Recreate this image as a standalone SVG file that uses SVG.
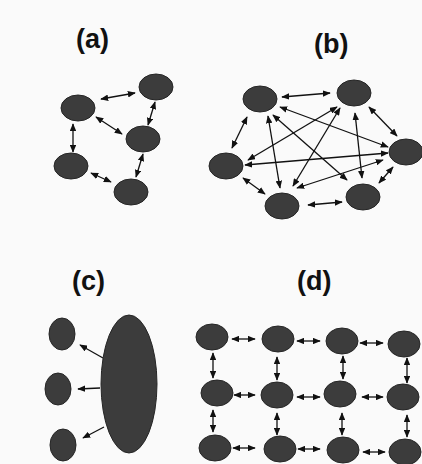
<svg xmlns="http://www.w3.org/2000/svg" width="422" height="464" viewBox="0 0 422 464">
<defs>
<marker id="ah" viewBox="0 0 10 10" refX="9" refY="5" markerWidth="8" markerHeight="6.5" markerUnits="userSpaceOnUse" orient="auto-start-reverse" preserveAspectRatio="none">
<path d="M0,0 L10,5 L0,10 z" fill="#111"/>
</marker>
</defs>
<style>
.n{fill:#3c3c3c;stroke:#262626;stroke-width:1}
.lbl{font-family:"Liberation Sans",Arial,sans-serif;font-weight:bold;font-size:27px;fill:#111}
.bi{stroke:#111;stroke-width:1.3;fill:none;marker-start:url(#ah);marker-end:url(#ah)}
.one{stroke:#111;stroke-width:1.3;fill:none;marker-end:url(#ah)}
</style>
<rect width="422" height="464" fill="#fafafa"/>
<g id="labels">
<text class="lbl" x="76" y="48">(a)</text>
<text class="lbl" x="314" y="53">(b)</text>
<text class="lbl" x="72" y="290">(c)</text>
<text class="lbl" x="297" y="290">(d)</text>
</g>
<g id="connectors">
<!-- a -->
<line class="bi" x1="101" y1="99" x2="135" y2="93"/>
<line class="bi" x1="155" y1="102" x2="148" y2="125"/>
<line class="bi" x1="96" y1="117" x2="122" y2="134"/>
<line class="bi" x1="73" y1="124" x2="73" y2="152"/>
<line class="bi" x1="91" y1="173" x2="111" y2="182"/>
<line class="bi" x1="143" y1="154" x2="136" y2="177"/>
<!-- b -->
<line class="bi" x1="282" y1="97" x2="330" y2="93"/>
<line class="bi" x1="247" y1="117" x2="232" y2="148"/>
<line class="bi" x1="369" y1="107" x2="397" y2="136"/>
<line class="bi" x1="280" y1="107" x2="388" y2="147"/>
<line class="bi" x1="337" y1="107" x2="248" y2="160"/>
<line class="bi" x1="268" y1="116" x2="280" y2="188"/>
<line class="bi" x1="273" y1="115" x2="347" y2="180"/>
<line class="bi" x1="340" y1="108" x2="293" y2="186"/>
<line class="bi" x1="355" y1="113" x2="362" y2="178"/>
<line class="bi" x1="245" y1="165" x2="388" y2="153"/>
<line class="bi" x1="297" y1="188" x2="383" y2="160"/>
<line class="bi" x1="243" y1="178" x2="265" y2="194"/>
<line class="bi" x1="308" y1="205" x2="342" y2="202"/>
<line class="bi" x1="379" y1="183" x2="393" y2="167"/>
<!-- c -->
<line class="one" x1="103" y1="358" x2="80" y2="345"/>
<line class="one" x1="100" y1="388" x2="78" y2="389"/>
<line class="one" x1="104" y1="427" x2="83" y2="438"/>
<!-- d horizontal -->
<line class="bi" x1="232" y1="339" x2="255" y2="339"/>
<line class="bi" x1="297" y1="341" x2="320" y2="341"/>
<line class="bi" x1="360" y1="343" x2="383" y2="343"/>
<line class="bi" x1="234" y1="395" x2="255" y2="395"/>
<line class="bi" x1="297" y1="397" x2="320" y2="397"/>
<line class="bi" x1="362" y1="397" x2="383" y2="397"/>
<line class="bi" x1="233" y1="448" x2="255" y2="448"/>
<line class="bi" x1="298" y1="449" x2="320" y2="449"/>
<line class="bi" x1="363" y1="452" x2="385" y2="452"/>
<!-- d vertical -->
<line class="bi" x1="213" y1="353" x2="213" y2="378"/>
<line class="bi" x1="277" y1="357" x2="277" y2="380"/>
<line class="bi" x1="343" y1="356" x2="343" y2="379"/>
<line class="bi" x1="407" y1="358" x2="407" y2="383"/>
<line class="bi" x1="213" y1="410" x2="213" y2="432"/>
<line class="bi" x1="277" y1="413" x2="277" y2="435"/>
<line class="bi" x1="342" y1="413" x2="342" y2="435"/>
<line class="bi" x1="407" y1="415" x2="407" y2="437"/>
</g>
<g id="a1"><ellipse class="n" cx="78" cy="108" rx="17" ry="13"/></g>
<g id="a2"><ellipse class="n" cx="156" cy="87" rx="17" ry="13"/></g>
<g id="a3"><ellipse class="n" cx="143" cy="139" rx="17" ry="13"/></g>
<g id="a4"><ellipse class="n" cx="71" cy="166" rx="17" ry="13"/></g>
<g id="a5"><ellipse class="n" cx="131" cy="192" rx="17" ry="13"/></g>
<g id="b1"><ellipse class="n" cx="260" cy="99" rx="17" ry="13"/></g>
<g id="b2"><ellipse class="n" cx="354" cy="93" rx="17" ry="13"/></g>
<g id="b3"><ellipse class="n" cx="406" cy="152" rx="17" ry="13"/></g>
<g id="b4"><ellipse class="n" cx="226" cy="166" rx="17" ry="13"/></g>
<g id="b5"><ellipse class="n" cx="282" cy="206" rx="17" ry="13"/></g>
<g id="b6"><ellipse class="n" cx="363" cy="197" rx="17" ry="13"/></g>
<g id="c1"><ellipse class="n" cx="62" cy="334" rx="13" ry="16"/></g>
<g id="c2"><ellipse class="n" cx="58" cy="389" rx="13" ry="16"/></g>
<g id="c3"><ellipse class="n" cx="63" cy="445" rx="13" ry="16"/></g>
<g id="c0"><ellipse class="n" cx="129" cy="384" rx="28" ry="69"/></g>
<g id="d11"><ellipse class="n" cx="212" cy="337" rx="16" ry="13"/></g>
<g id="d12"><ellipse class="n" cx="278" cy="339" rx="16" ry="13"/></g>
<g id="d13"><ellipse class="n" cx="342" cy="341" rx="16" ry="13"/></g>
<g id="d14"><ellipse class="n" cx="404" cy="344" rx="16" ry="13"/></g>
<g id="d21"><ellipse class="n" cx="217" cy="393" rx="16" ry="13"/></g>
<g id="d22"><ellipse class="n" cx="277" cy="395" rx="16" ry="13"/></g>
<g id="d23"><ellipse class="n" cx="340" cy="394" rx="16" ry="13"/></g>
<g id="d24"><ellipse class="n" cx="403" cy="397" rx="16" ry="13"/></g>
<g id="d31"><ellipse class="n" cx="215" cy="448" rx="16" ry="13"/></g>
<g id="d32"><ellipse class="n" cx="280" cy="449" rx="16" ry="13"/></g>
<g id="d33"><ellipse class="n" cx="343" cy="450" rx="16" ry="13"/></g>
<g id="d34"><ellipse class="n" cx="405" cy="452" rx="16" ry="13"/></g>
</svg>
